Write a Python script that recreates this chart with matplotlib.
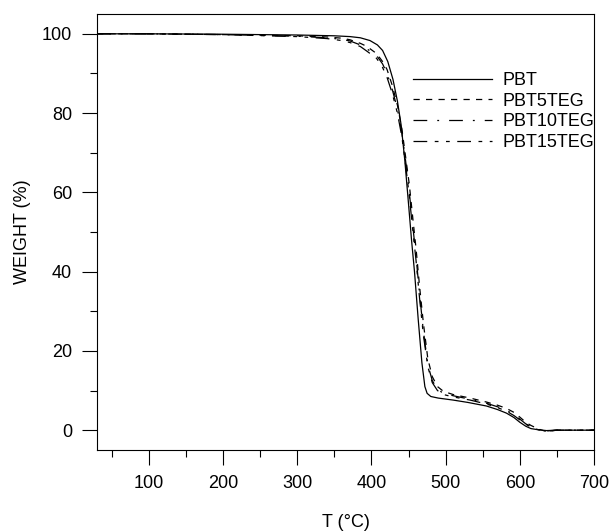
import matplotlib
matplotlib.use('Agg')
import matplotlib.pyplot as plt
from matplotlib.ticker import MultipleLocator

plt.rcParams['font.family'] = ['Liberation Sans', 'DejaVu Sans']

# TGA curves: temperature (C) vs weight (%)
t_pbt = [30, 100, 200, 300, 350, 371, 385, 398, 408, 415, 422, 429, 435, 440, 445, 450, 454, 458, 463,
         468, 472, 475, 480, 490, 510, 530, 555, 570, 582, 592, 600, 608, 615, 625, 636, 650, 700]
w_pbt = [100, 100, 99.9, 99.7, 99.5, 99.3, 99.0, 98.3, 97.2, 95.8, 93.0, 88.5, 83, 77, 68, 57, 48, 40, 28,
         17, 11, 9.3, 8.5, 8.1, 7.6, 7.0, 6.1, 5.2, 4.3, 3.2, 2.0, 1.0, 0.4, 0.1, -0.1, 0, 0]

t_5teg = [30, 100, 200, 300, 340, 360, 371, 385, 394, 407, 415, 421, 428, 435, 441, 446, 451, 456, 460,
          465, 470, 476, 482, 489, 497, 510, 533, 555, 570, 582, 592, 600, 608, 615, 625, 635, 650, 700]
w_5teg = [100, 100, 99.8, 99.5, 99.2, 98.9, 98.5, 97.6, 96.8, 95, 93, 91, 87, 82, 76, 69, 62, 53, 46,
          36, 27, 18, 13.5, 11, 9.8, 9.0, 8.1, 7.1, 6.3, 5.5, 4.5, 3.3, 2.0, 1.2, 0.3, -0.3, 0, 0]

t_10teg = [30, 100, 200, 300, 340, 360, 371, 385, 394, 407, 415, 421, 428, 435, 441, 446, 451, 456, 460,
           465, 470, 476, 482, 489, 497, 510, 533, 555, 570, 582, 592, 600, 608, 615, 625, 635, 650, 700]
w_10teg = [100, 100, 99.8, 99.4, 99.0, 98.6, 98.2, 97.2, 96.2, 94.5, 92.4, 90, 86, 81, 75, 68, 60, 51, 44,
           34, 25, 16.5, 12.5, 10.3, 9.3, 8.7, 7.8, 6.8, 5.9, 5.0, 4.0, 2.8, 1.6, 0.9, 0.2, -0.3, 0, 0]

t_15teg = [30, 100, 200, 300, 340, 360, 371, 385, 394, 407, 415, 421, 428, 435, 441, 446, 451, 456, 460,
           465, 470, 476, 482, 489, 497, 510, 533, 555, 570, 582, 592, 600, 608, 615, 625, 635, 650, 700]
w_15teg = [100, 100, 99.8, 99.3, 98.8, 98.3, 97.8, 96.8, 95.6, 93.8, 91.5, 89, 85, 80, 74, 67, 59, 50, 43,
           33, 24, 16, 12, 10.0, 9.0, 8.4, 7.6, 6.6, 5.7, 4.8, 3.7, 2.6, 1.5, 0.8, 0.1, -0.2, 0, 0]

fig = plt.figure(figsize=(6.11, 5.31), dpi=100)
ax = fig.add_axes([97 / 611, 81 / 531, 497 / 611, 436 / 531])

ax.plot(t_pbt, w_pbt, color='black', lw=0.9, ls='-', label='PBT')
ax.plot(t_5teg, w_5teg, color='black', lw=0.9, ls=(0, (5, 5)), label='PBT5TEG')
ax.plot(t_10teg, w_10teg, color='black', lw=0.9, ls=(0, (11, 8, 1.5, 8)), label='PBT10TEG')
ax.plot(t_15teg, w_15teg, color='black', lw=0.9, ls=(0, (11, 6, 3, 6, 3, 6)), label='PBT15TEG')

ax.set_xlim(30, 700)
ax.set_ylim(-5, 105)
ax.xaxis.set_major_locator(MultipleLocator(100))
ax.xaxis.set_minor_locator(MultipleLocator(50))
ax.yaxis.set_major_locator(MultipleLocator(20))
ax.yaxis.set_minor_locator(MultipleLocator(10))
ax.tick_params(which='major', direction='out', length=11, width=0.8, pad=7, labelsize=13)
ax.tick_params(which='minor', direction='out', length=5, width=0.8)
for s in ax.spines.values():
    s.set_linewidth(0.8)

ax.set_xlabel('T (°C)', fontsize=13, labelpad=16)
ax.set_ylabel('WEIGHT (%)', fontsize=13, labelpad=8)

ax.legend(loc='upper left', bbox_to_anchor=(413 / 611, 1 - 72 / 531), bbox_transform=fig.transFigure,
          frameon=False, fontsize=13, handlelength=4.4, handletextpad=0.55, labelspacing=0.2,
          borderpad=0, borderaxespad=0)

fig.savefig('out.png', dpi=100)
